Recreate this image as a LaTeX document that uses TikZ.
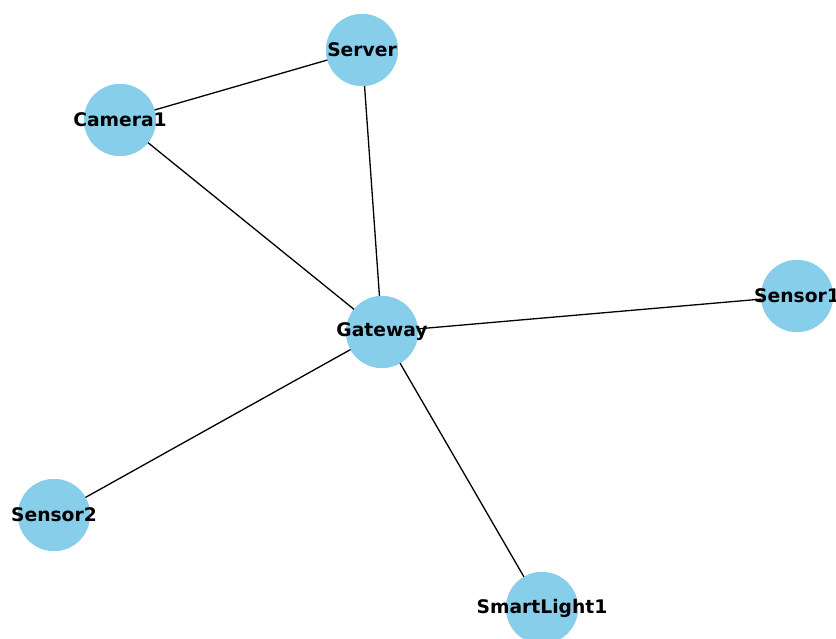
\documentclass[tikz,border=0pt]{standalone}
\usepackage{fontspec}
\setmainfont{DejaVu Sans}
\usepackage{tikz}
\definecolor{skyblue}{HTML}{87CEEB}

\begin{document}
\begin{tikzpicture}[x=1pt,y=-1pt]
\tikzstyle{every node}=[font=\fontsize{18.7}{21}\selectfont\bfseries]
\tikzstyle{dev}=[circle,fill=skyblue,minimum size=72pt,inner sep=0pt]
\tikzstyle{link}=[line width=1.3pt,black]
\useasboundingbox (0,0) rectangle (836,639);
% devices
\node[dev] (srv) at (362,50) {};
\node[dev] (cam) at (120,120) {};
\node[dev] (gw) at (382,332) {};
\node[dev] (s1) at (797,296) {};
\node[dev] (s2) at (54,515) {};
\node[dev] (sl) at (542,608) {};
% links
\draw[link](srv.center)--(cam.center);
\draw[link](srv.center)--(gw.center);
\draw[link](cam.center)--(gw.center);
\draw[link](gw.center)--(s1.center);
\draw[link](gw.center)--(s2.center);
\draw[link](gw.center)--(sl.center);
\foreach \n in {srv,cam,gw,s1,s2,sl} \node[dev] at (\n) {};
% labels
\node at (srv) {Server};
\node at (cam) {Camera1};
\node at (gw) {Gateway};
\node at (s1) {Sensor1};
\node at (s2) {Sensor2};
\node at (sl) {SmartLight1};
\end{tikzpicture}
\end{document}
